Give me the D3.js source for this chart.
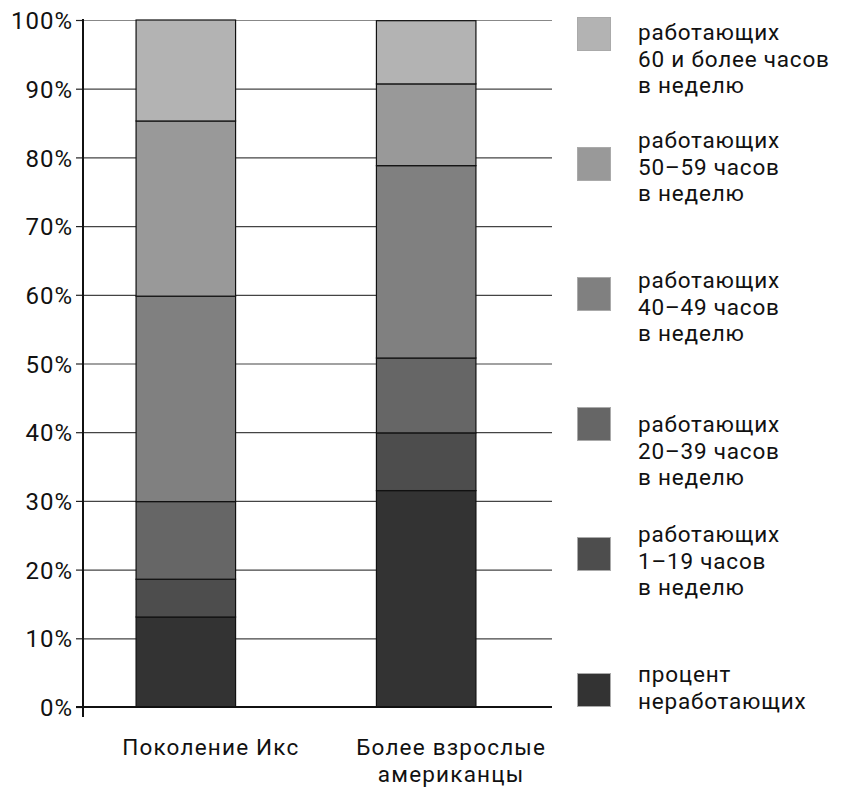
<!DOCTYPE html>
<html><head><meta charset="utf-8">
<script src="https://cdn.jsdelivr.net/npm/d3@7"></script>
<style>
html,body{margin:0;padding:0;background:#fff;}
svg text{font-family:Roboto,"Open Sans",sans-serif;fill:#111;}
</style></head>
<body>
<svg id="c" width="844" height="788"></svg>
<script>
// ---- data ----
const categories = ["Поколение Икс", "Более взрослые\nамериканцы"];
const seriesKeys = ["none", "h1_19", "h20_39", "h40_49", "h50_59", "h60"];
const seriesLabels = [
  ["процент", "неработающих"],
  ["работающих", "1–19 часов", "в неделю"],
  ["работающих", "20–39 часов", "в неделю"],
  ["работающих", "40–49 часов", "в неделю"],
  ["работающих", "50–59 часов", "в неделю"],
  ["работающих", "60 и более часов", "в неделю"]
];
const genX  = [13.1, 5.5, 11.3, 29.9, 25.5, 14.7];
const older = [31.5, 8.4, 10.9, 28.0, 11.9, 9.2];
const tickValues = [0,10,20,30,40,50,60,70,80,90,100];
const tickLabels = ["0%","10%","20%","30%","40%","50%","60%","70%","80%","90%","100%"];

// ---- styles / layout ----
const colors = ["#333333", "#4d4d4d", "#666666", "#808080", "#999999", "#b3b3b3"];
const legendSwatchY = [17, 147, 277, 407, 537, 673];
const legendTextY   = [40, 148, 288, 432, 542, 682];
const legendFont = 22.5, legendLine = 26.5;

const svg = d3.select("#c");
const y = d3.scaleLinear().domain([0, 100]).range([707, 20]);
const x = d3.scaleBand().domain(categories).range([88, 524]).paddingInner(0.586).paddingOuter(0.2);
const gridRight = 552;

const table = categories.map((c, i) => {
  const vals = i === 0 ? genX : older;
  const o = {cat: c};
  seriesKeys.forEach((k, j) => o[k] = vals[j]);
  return o;
});
const stacked = d3.stack().keys(seriesKeys)(table);

// y axis ticks + labels
const yAxisG = svg.append("g").attr("transform", "translate(83,0)")
  .call(d3.axisLeft(y).tickValues(tickValues).tickFormat((d, i) => tickLabels[i]).tickSize(7).tickPadding(4));
yAxisG.select(".domain").remove();
yAxisG.selectAll(".tick line").attr("stroke", "#222").attr("stroke-width", 1.2);
yAxisG.selectAll(".tick text").attr("font-size", 24).attr("dy", "0.36em").attr("fill", "#111")
  .attr("letter-spacing", 1).attr("dx", 1)
  .style("font-family", 'Roboto,"Open Sans",sans-serif');

// gridlines
svg.append("g").selectAll("line").data(tickValues.filter(d => d > 0)).join("line")
  .attr("x1", 83).attr("x2", gridRight)
  .attr("y1", d => y(d) + 0.5).attr("y2", d => y(d) + 0.5)
  .attr("stroke", d => d === 100 ? "#888" : "#444").attr("stroke-width", 1.2);

// bars
svg.append("g").selectAll("g").data(stacked).join("g")
  .attr("fill", (d, i) => colors[i])
  .selectAll("rect").data(d => d).join("rect")
  .attr("x", d => x(d.data.cat))
  .attr("width", x.bandwidth())
  .attr("y", d => y(d[1]))
  .attr("height", d => y(d[0]) - y(d[1]))
  .attr("stroke", "#111").attr("stroke-width", 1.2);

// axis lines
svg.append("line").attr("x1", 83).attr("x2", 83).attr("y1", 19).attr("y2", 717)
  .attr("stroke", "#111").attr("stroke-width", 2);
svg.append("line").attr("x1", 76).attr("x2", gridRight).attr("y1", 707).attr("y2", 707)
  .attr("stroke", "#111").attr("stroke-width", 2);

// category labels
const catG = svg.append("g");
categories.forEach(c => {
  const cx = x(c) + x.bandwidth() / 2 + 25;
  const t = catG.append("text").attr("x", cx).attr("y", 755)
    .attr("text-anchor", "middle").attr("font-size", 22.5).attr("letter-spacing", 1.2);
  c.split("\n").forEach((l, i) => t.append("tspan").attr("x", cx)
    .attr("dy", i === 0 ? 0 : 26.5).text(l));
});

// legend
const legendOrder = d3.range(seriesKeys.length).reverse();
const lg = svg.append("g");
legendOrder.forEach((si, li) => {
  lg.append("rect").attr("x", 577.5).attr("y", legendSwatchY[li] + 0.5)
    .attr("width", 33).attr("height", 33)
    .attr("fill", colors[si]).attr("stroke", "#aaa").attr("stroke-width", 1);
  const t = lg.append("text").attr("x", 638).attr("y", legendTextY[li])
    .attr("font-size", legendFont).attr("letter-spacing", 0.8);
  seriesLabels[si].forEach((l, i) => t.append("tspan").attr("x", 638)
    .attr("dy", i === 0 ? 0 : legendLine).text(l));
});
</script>
</body></html>
